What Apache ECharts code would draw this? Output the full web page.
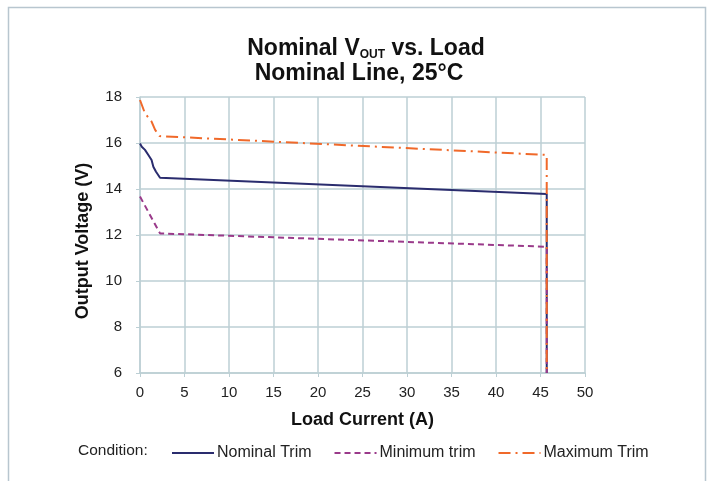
<!DOCTYPE html>
<html><head><meta charset="utf-8">
<script src="https://cdn.jsdelivr.net/npm/echarts@6/dist/echarts.min.js"></script>
<style>html,body{margin:0;padding:0;background:#fff}#c{width:711px;height:481px}</style>
</head><body><div id="c"></div>
<script>
// Data
const seriesNames = ['Nominal Trim', 'Minimum trim', 'Maximum Trim'];
const nominalTrim = [[0,15.98],[0.2,15.84],[0.56,15.7],[0.94,15.48],[1.3,15.26],[1.5,14.97],[1.8,14.75],[2.25,14.49],[45.7,13.78],[45.7,6]];
const minimumTrim = [[0,13.67],[2.25,12.07],[45.7,11.49],[45.7,6]];
const maximumTrim = [[0,17.87],[0.56,17.29],[1.3,16.93],[1.7,16.57],[2.2,16.3],[45.7,15.48],[45.7,6]];
const xTicks = [0,50,5];
const yTicks = [6,18,2];

const gridColor = '#bccfd4';
const chart = echarts.init(document.getElementById('c'));
chart.setOption({
  backgroundColor: '#fff',
  animation: false,
  title: {
    left: 361, top: 31, textAlign: 'center',
    text: '{a|Nominal V}{s|OUT}{a| vs. Load}\n{b|Nominal Line, 25°C}',
    textStyle: {
      rich: {
        a: {fontFamily: 'Liberation Sans', fontWeight: 'bold', fontSize: 23, color: '#111', lineHeight: 25},
        b: {fontFamily: 'Liberation Sans', fontWeight: 'bold', fontSize: 23, color: '#111', lineHeight: 25, padding: [0, 14, 0, 0]},
        s: {fontFamily: 'Liberation Sans', fontWeight: 'bold', fontSize: 12, color: '#111', lineHeight: 12, verticalAlign: 'bottom'}
      }
    }
  },
  graphic: [
    {type: 'rect', shape: {x: 8.5, y: 7.5, width: 697, height: 520}, style: {fill: 'none', stroke: '#b8c6cf', lineWidth: 1.5}, silent: true},
    {type: 'text', left: 78, top: 443, style: {text: 'Condition:', fontFamily: 'Liberation Sans', fontSize: 15.5, fill: '#222'}}
  ],
  legend: {
    left: 166, top: 440,
    itemWidth: 42, itemHeight: 14, itemGap: 22,
    itemStyle: {opacity: 0},
    textStyle: {fontFamily: 'Liberation Sans', fontSize: 16, color: '#222', padding: [0,0,0,-2]},
    data: seriesNames
  },
  grid: {left: 140, right: 126, top: 97, bottom: 108},
  xAxis: {
    type: 'value', min: xTicks[0], max: xTicks[1], interval: xTicks[2],
    name: 'Load Current (A)', nameLocation: 'middle', nameGap: 38,
    nameTextStyle: {fontFamily: 'Liberation Sans', fontWeight: 'bold', fontSize: 18, color: '#111'},
    axisLine: {lineStyle: {color: gridColor, width: 1.5}},
    axisTick: {show: true, length: 4, lineStyle: {color: gridColor}},
    axisLabel: {margin: 12, fontFamily: 'Liberation Sans', fontSize: 15, color: '#222'},
    splitLine: {show: true, lineStyle: {color: gridColor, width: 1.5}}
  },
  yAxis: {
    type: 'value', min: yTicks[0], max: yTicks[1], interval: yTicks[2],
    name: 'Output Voltage (V)', nameLocation: 'middle', nameGap: 48,
    nameTextStyle: {fontFamily: 'Liberation Sans', fontWeight: 'bold', fontSize: 18, color: '#111', padding: [0, 12, 0, 0]},
    axisLine: {show: true, lineStyle: {color: gridColor, width: 1.5}},
    axisTick: {show: true, length: 4, lineStyle: {color: gridColor}},
    axisLabel: {margin: 18, fontFamily: 'Liberation Sans', fontSize: 15, color: '#222'},
    splitLine: {show: true, lineStyle: {color: gridColor, width: 1.5}}
  },
  series: [
    {name: seriesNames[0], type: 'line', data: nominalTrim, symbol: 'none', lineStyle: {color: '#2a2c6e', width: 2}, itemStyle: {color: '#2a2c6e'}},
    {name: seriesNames[1], type: 'line', data: minimumTrim, symbol: 'none', lineStyle: {color: '#9a3a8a', width: 2, type: [6,4]}, itemStyle: {color: '#9a3a8a'}},
    {name: seriesNames[2], type: 'line', data: maximumTrim, symbol: 'none', lineStyle: {color: '#f0692a', width: 2, type: [12,5,2,5]}, itemStyle: {color: '#f0692a'}}
  ]
});
</script></body></html>
